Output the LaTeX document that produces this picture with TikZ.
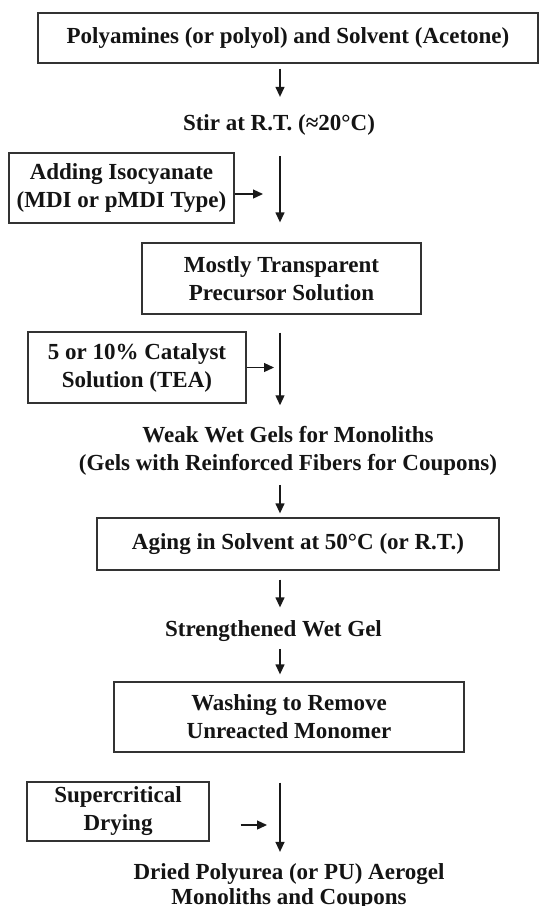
\documentclass[tikz,border=0pt]{standalone}
\usepackage{fontspec}
\setmainfont{Liberation Serif}
\usetikzlibrary{arrows.meta,calc}
\newcommand\pufont{\fontsize{23}{28}\selectfont\bfseries}
\tikzset{
 pu box/.style={draw=black!80,line width=1.3pt,inner sep=0pt,align=center,
                text=black!92,font=\pufont},
 pu label/.style={inner sep=0pt,align=center,text=black!92,font=\pufont},
 pu flow/.style={line width=1.3pt,draw=black!90,
                 -{Triangle[length=10pt,width=9pt]}}
}

\begin{document}
\begin{tikzpicture}[x=1pt,y=-1pt]
 \useasboundingbox (0,0) rectangle (539,906);
 \coordinate (col) at (280,0);

 \node[pu box,minimum width=500pt,minimum height=50pt] (start) at (288,38)
   {Polyamines (or polyol) and Solvent (Acetone)};
 \node[pu label,anchor=base] (stir) at (279,130) {Stir at R.T. (≈20°C)};
 \node[pu box,minimum width=225pt,minimum height=70pt] (iso) at (121.5,188)
   {Adding Isocyanate\\(MDI or pMDI Type)};
 \node[pu box,minimum width=279pt,minimum height=71pt] (prec) at (281.5,278.5)
   {Mostly Transparent\\Precursor Solution};
 \node[pu box,minimum width=218pt,minimum height=71pt] (cat) at (137,367.5)
   {5 or 10\% Catalyst\\Solution (TEA)};
 \node[pu label] (weak) at (288,451)
   {Weak Wet Gels for Monoliths\\(Gels with Reinforced Fibers for Coupons)};
 \node[pu box,minimum width=402pt,minimum height=52pt] (aging) at (298,544)
   {Aging in Solvent at 50°C (or R.T.)};
 \node[pu label,anchor=base] (strong) at (273.5,636.5) {Strengthened Wet Gel};
 \node[pu box,minimum width=350pt,minimum height=70pt] (wash) at (289,717)
   {Washing to Remove\\Unreacted Monomer};
 \node[pu box,minimum width=182pt,minimum height=59pt] (scd) at (118,811.5)
   {Supercritical\\Drying};
 \node[pu label,font=\fontsize{23}{25}\selectfont\bfseries] (dried) at (289,886)
   {Dried Polyurea (or PU) Aerogel\\Monoliths and Coupons};

 % main line
 \foreach \a/\b/\s/\e in {start/stir/5/17,stir/prec/21/20,prec/weak/18/21,
                          weak/aging/9/4,aging/strong/9/13,strong/wash/7/7,
                          wash/dried/30/11}
   \draw[pu flow,shorten <=\s pt,shorten >=\e pt] (\a.south -| col)--(\b.north -| col);

 % side feeds
 \draw[pu flow,shorten >=17pt] ([yshift=-6pt]iso.east)--([yshift=-6pt]iso.east -| col);
 \draw[pu flow,shorten >=6pt] (cat.east)--(cat.east -| col);
 \draw[pu flow,shorten <=31pt,shorten >=13pt]
   ([yshift=-13.5pt]scd.east)--([yshift=-13.5pt]scd.east -| col);
\end{tikzpicture}
\end{document}
